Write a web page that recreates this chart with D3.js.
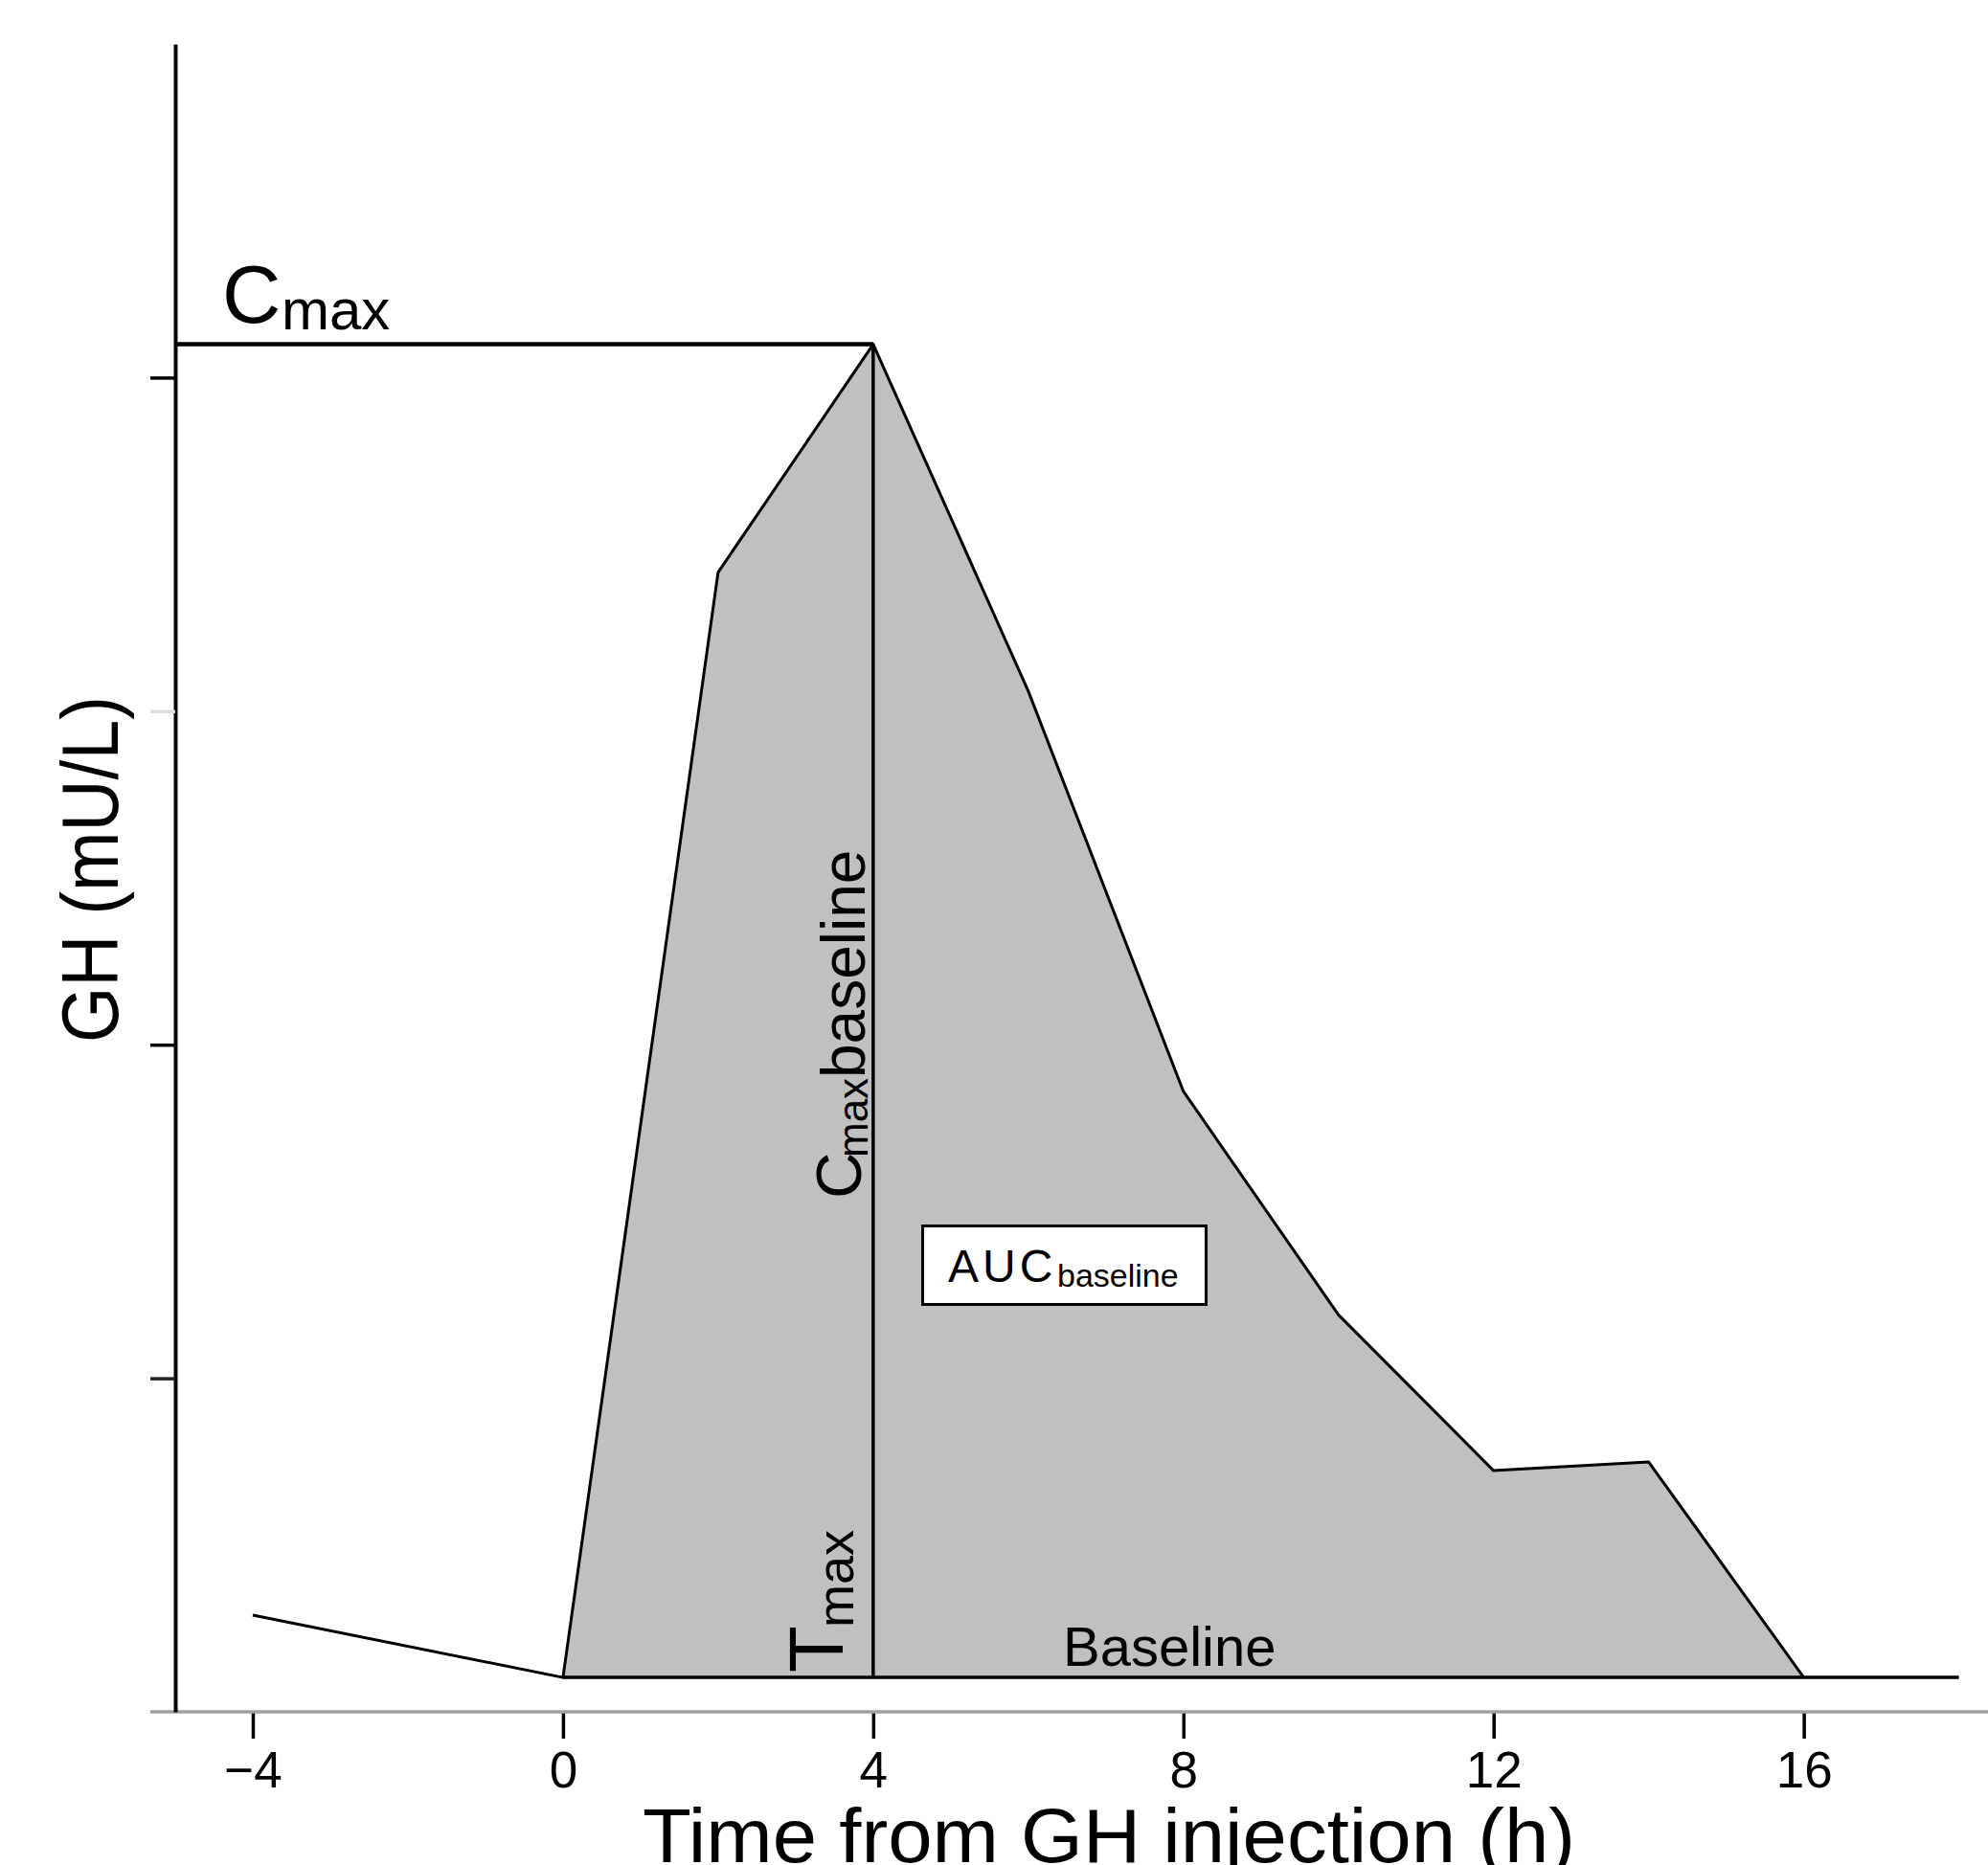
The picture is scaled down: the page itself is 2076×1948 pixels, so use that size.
<!DOCTYPE html>
<html>
<head>
<meta charset="utf-8">
<script src="https://cdn.jsdelivr.net/npm/d3@7"></script>
<style>
  html, body { margin: 0; padding: 0; background: #fff; }
  svg { display: block; }
  text { font-family: "Liberation Sans", Arial, Helvetica, sans-serif; fill: #000; }
</style>
</head>
<body>
<svg id="chart" width="2076" height="1948"></svg>
<script>
// ---- data ----
const timePoints = [-4, 0, 2, 4, 6, 8, 10, 12, 14, 16];
const ghValues   = [0.29, 0.103, 3.416, 4.1, 3.06, 1.86, 1.19, 0.723, 0.749, 0.103];
const baselineValue = 0.103;
const baselineEnd = 18;
const tmax = 4;
const cmax = 4.1;
const aucStart = 0, aucEnd = 16;
const xTickValues = [-4, 0, 4, 8, 12, 16];
const xTickLabels = ["\u22124", "0", "4", "8", "12", "16"];
const yTickValues = [1, 2, 3, 4];
const yTickColors = ["#222", "#000", "#ddd", "#000"];
const xTitle = "Time from GH injection (h)";
const yTitle = "GH (mU/L)";

const W = 2076, H = 1948;
const svg = d3.select("#chart");

const x = d3.scaleLinear().domain([-5, 18.4]).range([183, 2078]);
const y = d3.scaleLinear().domain([0, 5]).range([1788, 46]);

const pts = timePoints.map((t, i) => ({t, v: ghValues[i]}));
const aucPts = pts.filter(d => d.t >= aucStart && d.t <= aucEnd);

// AUC area
svg.append("path")
  .datum(aucPts)
  .attr("d", d3.area().x(d => x(d.t)).y0(y(baselineValue)).y1(d => y(d.v)))
  .attr("fill", "#c0c0c0");

// x axis
const xAxisG = svg.append("g").attr("transform", `translate(0,${y(0)})`)
  .call(d3.axisBottom(x).tickValues(xTickValues).tickSize(28).tickSizeOuter(0)
        .tickFormat((d, i) => xTickLabels[i]));
xAxisG.select(".domain").remove();
xAxisG.selectAll(".tick line").attr("stroke", "#000").attr("stroke-width", 3.5);
xAxisG.selectAll(".tick text")
  .attr("y", 0).attr("dy", 0)
  .attr("transform", "translate(0,79)")
  .style("font-size", "53px")
  .style("font-family", "'Liberation Sans', Arial, sans-serif")
  .attr("fill", "#000");
// gray axis line
svg.append("line")
  .attr("x1", x.range()[0] - 26).attr("x2", W)
  .attr("y1", y(0)).attr("y2", y(0))
  .attr("stroke", "#a0a0a0").attr("stroke-width", 3.5);

// y axis
const yAxisG = svg.append("g").attr("transform", `translate(${x(-5)},0)`)
  .call(d3.axisLeft(y).tickValues(yTickValues).tickSize(26).tickSizeOuter(0).tickFormat(""));
yAxisG.select(".domain").attr("stroke", "#000").attr("stroke-width", 4);
yAxisG.selectAll(".tick line")
  .attr("stroke", (d, i) => yTickColors[i]).attr("stroke-width", 3.5);

// baseline line
svg.append("line")
  .attr("x1", x(aucStart)).attr("x2", x(baselineEnd))
  .attr("y1", y(baselineValue)).attr("y2", y(baselineValue))
  .attr("stroke", "#000").attr("stroke-width", 3.5);

// Cmax horizontal line
svg.append("line")
  .attr("x1", x(-5)).attr("x2", x(tmax))
  .attr("y1", y(cmax)).attr("y2", y(cmax))
  .attr("stroke", "#000").attr("stroke-width", 4.5);

// Tmax vertical line
svg.append("line")
  .attr("x1", x(tmax)).attr("x2", x(tmax))
  .attr("y1", y(baselineValue)).attr("y2", y(cmax))
  .attr("stroke", "#000").attr("stroke-width", 3.5);

// GH curve
svg.append("path")
  .datum(pts)
  .attr("d", d3.line().x(d => x(d.t)).y(d => y(d.v)))
  .attr("fill", "none").attr("stroke", "#000").attr("stroke-width", 3)
  .attr("stroke-linejoin", "round");

// Cmax label (top-left)
svg.append("text").attr("x", 232).attr("y", 337).style("font-size", "85px").text("C");
svg.append("text").attr("x", 294).attr("y", 344).style("font-size", "60px").text("max");

// Cmax baseline (rotated)
const cb = svg.append("g").attr("transform", `translate(${x(tmax) - 13},1252) rotate(-90)`);
cb.append("text").attr("x", 0).attr("y", 0).style("font-size", "67px").text("C");
cb.append("text").attr("x", 43).attr("y", 7).style("font-size", "44px").text("max");
cb.append("text").attr("x", 126).attr("y", 4).style("font-size", "64px").text("baseline");

// Tmax (rotated)
const tm = svg.append("g").attr("transform", `translate(880,1747) rotate(-90)`);
tm.append("text").attr("x", 0).attr("y", 0).style("font-size", "80px").text("T");
tm.append("text").attr("x", 47).attr("y", 11).style("font-size", "54px").text("max");

// Baseline label
svg.append("text").attr("x", 1110).attr("y", 1740).style("font-size", "58px").text("Baseline");

// AUC box
svg.append("rect").attr("x", 963.5).attr("y", 1280.5).attr("width", 296).attr("height", 82)
  .attr("fill", "#fff").attr("stroke", "#000").attr("stroke-width", 3);
svg.append("text").attr("x", 990).attr("y", 1339).style("font-size", "48px")
  .style("letter-spacing", "4px").text("AUC");
svg.append("text").attr("x", 1104).attr("y", 1344).style("font-size", "34px").text("baseline");

// axis titles
svg.append("text").attr("x", 1158).attr("y", 1945).attr("text-anchor", "middle")
  .style("font-size", "79px").attr("textLength", 974).attr("lengthAdjust", "spacingAndGlyphs")
  .text(xTitle);
svg.append("text").attr("transform", `translate(123,908) rotate(-90)`).attr("text-anchor", "middle")
  .style("font-size", "84px").attr("textLength", 362).attr("lengthAdjust", "spacingAndGlyphs")
  .text(yTitle);
</script>
</body>
</html>
